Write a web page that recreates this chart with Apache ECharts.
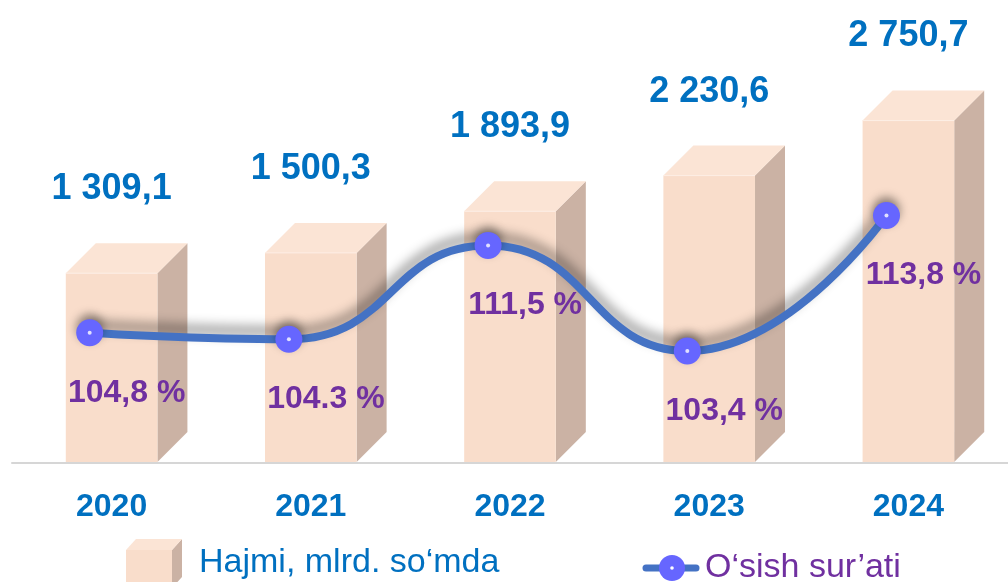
<!DOCTYPE html>
<html>
<head>
<meta charset="utf-8">
<script src="https://cdn.jsdelivr.net/npm/echarts@6/dist/echarts.min.js"></script>
<style>
  html, body { margin: 0; padding: 0; background: #fff; }
  #chart { width: 1008px; height: 582px; }
</style>
</head>
<body>
<div id="chart"></div>
<script>
// data
var years = ['2020', '2021', '2022', '2023', '2024'];
var volume = [1309.1, 1500.3, 1893.9, 2230.6, 2750.7];   // Hajmi, mlrd. so'mda
var growth = [104.8, 104.3, 111.5, 103.4, 113.8];         // O'sish sur'ati, %
var growthLabels = ['104,8 %', '104.3 %', '111,5 %', '103,4 %', '113,8 %'];

var volName = 'Hajmi, mlrd. so\u2018mda';
var growthName = 'O\u2018sish sur\u2019ati';

var barMin = -485, barMax = 3701;
var FONT = '"Liberation Sans", Arial, sans-serif';
var blue = '#0070c0', purple = '#7030a0';
var front = '#f9ddcb', topC = '#fbe4d5', side = '#cbb2a4';

function fmt(v) {
  var s = v.toFixed(1).split('.');
  var n = s[0].replace(/\B(?=(\d{3})+(?!\d))/g, ' ');
  return n + ',' + s[1];
}

// 3D bar
function renderBar(params, api) {
  var idx = api.value(0);
  var top = api.coord([idx, api.value(1)]);
  var base = api.coord([idx, barMin]);
  var w = api.size([1, 0])[0] * 0.46;
  var x0 = top[0] - w / 2, x1 = top[0] + w / 2;
  var y0 = top[1], y1 = base[1] - 1;
  var d = 30;
  return {
    type: 'group',
    children: [
      { type: 'polygon', shape: { points: [[x1, y0], [x1 + d, y0 - d], [x1 + d, y1 - d], [x1, y1]] }, style: { fill: side } },
      { type: 'polygon', shape: { points: [[x0, y0], [x0 + d, y0 - d], [x1 + d, y0 - d], [x1, y0]] }, style: { fill: topC } },
      { type: 'rect', shape: { x: x0, y: y0, width: w, height: y1 - y0 }, style: { fill: front } },
      { type: 'line', shape: { x1: x0, y1: y0, x2: x1, y2: y0 }, style: { stroke: '#fdeee5', lineWidth: 1 } },
      {
        type: 'text', x: top[0], y: y0 - 84,
        style: {
          text: fmt(api.value(1)), fill: blue, font: 'bold 36px ' + FONT,
          textAlign: 'center', textVerticalAlign: 'middle'
        }
      }
    ]
  };
}

var boxIcon = 'image://data:image/svg+xml;utf8,' + encodeURIComponent(
  '<svg xmlns="http://www.w3.org/2000/svg" width="68" height="50" viewBox="0 0 68 50" preserveAspectRatio="none">' +
  '<polygon points="46,12 56,1 56,39 46,50" fill="' + side + '"/>' +
  '<polygon points="0,12 10,1 56,1 46,12" fill="' + topC + '"/>' +
  '<rect x="0" y="12" width="46" height="38" fill="' + front + '"/></svg>');

var lineIcon = 'image://data:image/svg+xml;utf8,' + encodeURIComponent(
  '<svg xmlns="http://www.w3.org/2000/svg" width="58" height="28" viewBox="0 0 58 28" preserveAspectRatio="none">' +
  '<line x1="4" y1="14" x2="54" y2="14" stroke="#4472c4" stroke-width="7" stroke-linecap="round"/>' +
  '<circle cx="30" cy="14" r="13" fill="#6666ff"/>' +
  '<circle cx="30" cy="14" r="1.8" fill="#ffffff"/></svg>');

var chart = echarts.init(document.getElementById('chart'));

var option = {
  backgroundColor: '#fff',
  animation: false,
  legend: [
    {
      data: [{ name: volName, icon: boxIcon }],
      left: 126, top: 538, padding: 0,
      itemWidth: 68, itemHeight: 50,
      selectedMode: false,
      textStyle: { color: blue, fontSize: 34, fontFamily: FONT }
    },
    {
      data: [{ name: growthName, icon: lineIcon }],
      left: 642, top: 551, padding: 0,
      itemWidth: 58, itemHeight: 28,
      selectedMode: false,
      textStyle: { color: purple, fontSize: 34, fontFamily: FONT }
    }
  ],
  grid: [
    { left: 12, width: 1004, top: 20, bottom: 119 },
    { left: 12, width: 1004, top: 20, bottom: 119 }
  ],
  xAxis: [
    {
      type: 'category', gridIndex: 0, data: years,
      axisLine: { onZero: false, lineStyle: { color: '#d6d6d6', width: 2 } },
      axisTick: { show: false },
      axisLabel: { color: blue, fontSize: 32, fontWeight: 'bold', fontFamily: FONT, margin: 28 }
    },
    // line points sit a little left of the bar centres
    { type: 'value', gridIndex: 1, min: -0.39, max: 4.61, show: false, splitLine: { show: false } }
  ],
  yAxis: [
    { type: 'value', gridIndex: 0, min: barMin, max: barMax, show: false, splitLine: { show: false } },
    { type: 'value', gridIndex: 1, min: 94.8, max: 128.8, show: false, splitLine: { show: false } }
  ],
  series: [
    {
      name: volName,
      type: 'custom',
      xAxisIndex: 0, yAxisIndex: 0,
      renderItem: renderBar,
      itemStyle: { color: front },
      data: volume.map(function (v, i) { return [i, v]; }),
      z: 1
    },
    {
      name: growthName,
      type: 'line',
      xAxisIndex: 1, yAxisIndex: 1,
      data: growth.map(function (v, i) { return [i, v]; }),
      smooth: true,
      symbol: 'circle',
      symbolSize: 27,
      lineStyle: {
        color: '#4472c4', width: 8,
        shadowColor: 'rgba(0,0,0,0.45)', shadowBlur: 12, shadowOffsetY: -8
      },
      itemStyle: {
        color: '#6666ff',
        shadowColor: 'rgba(0,0,0,0.4)', shadowBlur: 10, shadowOffsetY: -5
      },
      label: {
        show: true,
        position: 'inside',
        offset: [37, 60],
        color: purple, fontSize: 32, fontWeight: 'bold', fontFamily: FONT,
        formatter: function (p) { return growthLabels[p.dataIndex]; }
      },
      z: 3
    },
    {
      type: 'scatter',
      xAxisIndex: 1, yAxisIndex: 1,
      data: growth.map(function (v, i) { return [i, v]; }),
      symbolSize: 4,
      itemStyle: { color: '#ffffff' },
      silent: true,
      z: 5
    }
  ]
};

chart.setOption(option);
</script>
</body>
</html>
